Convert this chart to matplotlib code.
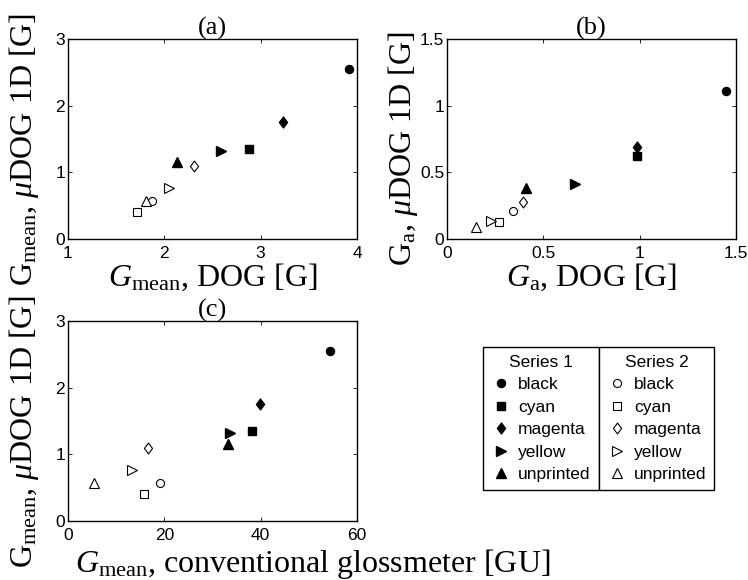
"""
Scatter comparison of gloss measures (three panels + split legend).
"""
import matplotlib
matplotlib.use('Agg')
import matplotlib.pyplot as plt
from matplotlib.lines import Line2D
from matplotlib.path import Path
from matplotlib.ticker import FuncFormatter

# Samples, same order in every array
samples = ['black', 'cyan', 'magenta', 'yellow', 'unprinted']

# matlab-like diamond (a bit narrower than tall)
diamond = Path([(0, 1), (0.75, 0), (0, -1), (-0.75, 0), (0, 1)],
               [Path.MOVETO, Path.LINETO, Path.LINETO, Path.LINETO, Path.CLOSEPOLY])
markers = ['o', 's', diamond, '>', '^']
msizes = [5.8, 5.3, 7.8, 7, 7]

# Gmean, DOG [G]
gmean_dog_1 = [3.92, 2.88, 3.23, 2.59, 2.13]
gmean_dog_2 = [1.87, 1.72, 2.31, 2.05, 1.81]

# Gmean, muDOG 1D [G]
gmean_mu_1 = [2.55, 1.35, 1.76, 1.32, 1.16]
gmean_mu_2 = [0.565, 0.41, 1.10, 0.76, 0.575]

# Ga, DOG [G]
ga_dog_1 = [1.446, 0.984, 0.984, 0.664, 0.408]
ga_dog_2 = [0.343, 0.272, 0.396, 0.227, 0.149]

# Ga, muDOG 1D [G]
ga_mu_1 = [1.11, 0.625, 0.69, 0.415, 0.385]
ga_mu_2 = [0.21, 0.13, 0.28, 0.135, 0.088]

# Gmean, conventional glossmeter [GU]
gmean_gu_1 = [54.3, 38.1, 39.9, 33.6, 33.2]
gmean_gu_2 = [19.2, 15.7, 16.7, 13.3, 5.5]

SERIF = 'Liberation Serif'
SANS = 'Liberation Sans'
plt.rcParams['font.family'] = SANS
plt.rcParams['mathtext.fontset'] = 'custom'
plt.rcParams['mathtext.rm'] = SERIF
plt.rcParams['mathtext.it'] = SERIF + ':italic'

W, H = 748, 580
fig = plt.figure(figsize=(W / 100, H / 100), dpi=100)


def px_axes(left, top, right, bottom):
    return fig.add_axes([left / W, 1 - bottom / H, (right - left) / W, (bottom - top) / H])


def draw_panel(ax, x1, y1, x2, y2, xlim, ylim, xticks, yticks, title, xlabel, ylabel):
    for i in range(len(samples)):
        ax.plot(x1[i], y1[i], linestyle='none', marker=markers[i], color='black',
                markersize=msizes[i])
        ax.plot(x2[i], y2[i], linestyle='none', marker=markers[i], markerfacecolor='white',
                markeredgecolor='black', markeredgewidth=0.8, markersize=msizes[i])
    ax.set_xlim(xlim)
    ax.set_ylim(ylim)
    ax.set_xticks(xticks)
    ax.set_yticks(yticks)
    fmt = FuncFormatter(lambda v, p: '%g' % v)
    ax.xaxis.set_major_formatter(fmt)
    ax.yaxis.set_major_formatter(fmt)
    ax.tick_params(direction='in', top=True, right=True, length=3, width=0.6,
                   labelsize=12.5)
    ax.tick_params(axis='x', pad=5)
    ax.tick_params(axis='y', pad=2)
    for sp in ax.spines.values():
        sp.set_linewidth(1.0)
    ax.set_title(title, fontfamily=SERIF, fontsize=19, pad=3)
    ax.set_xlabel(xlabel, fontfamily=SERIF, fontsize=23)
    ax.set_ylabel(ylabel, fontfamily=SERIF, fontsize=23)
    ax.xaxis.set_label_coords(0.5, -0.115)
    ax.yaxis.set_label_coords(-0.095, 0.45)


ax_a = px_axes(68, 39, 357, 239)
draw_panel(ax_a, gmean_dog_1, gmean_mu_1, gmean_dog_2, gmean_mu_2,
           (1, 4), (0, 3), [1, 2, 3, 4], [0, 1, 2, 3], '(a)',
           r'$G_{\mathrm{mean}}$, DOG [G]',
           r'G$_{\mathrm{mean}}$, $\mu$DOG 1D [G]')

ax_b = px_axes(447, 39, 736, 239)
draw_panel(ax_b, ga_dog_1, ga_mu_1, ga_dog_2, ga_mu_2,
           (0, 1.5), (0, 1.5), [0, 0.5, 1, 1.5], [0, 0.5, 1, 1.5], '(b)',
           r'$G_{\mathrm{a}}$, DOG [G]',
           r'G$_{\mathrm{a}}$, $\mu$DOG 1D [G]')

ax_c = px_axes(68, 321, 357, 521)
draw_panel(ax_c, gmean_gu_1, gmean_mu_1, gmean_gu_2, gmean_mu_2,
           (0, 60), (0, 3), [0, 20, 40, 60], [0, 1, 2, 3], '(c)',
           r'$G_{\mathrm{mean}}$, conventional glossmeter [GU]',
           r'G$_{\mathrm{mean}}$, $\mu$DOG 1D [G]')
# this label runs off to the right in the original
ax_c.xaxis.label.set_horizontalalignment('left')
ax_c.xaxis.set_label_coords(0.024, -0.13)

# Two side-by-side legend boxes
h1 = [Line2D([], [], linestyle='none', marker=m, color='black', markersize=s)
      for m, s in zip(markers, msizes)]
h2 = [Line2D([], [], linestyle='none', marker=m, markerfacecolor='white',
             markeredgecolor='black', markeredgewidth=0.8, markersize=s)
      for m, s in zip(markers, msizes)]

for handles, title, left, right in [(h1, 'Series 1', 483, 599), (h2, 'Series 2', 599, 714)]:
    leg = fig.legend(handles, samples, title=title, loc='upper left',
                     bbox_to_anchor=(left / W, 1 - 347 / H - 0.01, (right - left) / W, 0.01),
                     mode='expand', borderaxespad=0, fancybox=False, framealpha=1,
                     edgecolor='black', fontsize=12.5, title_fontsize=12.5,
                     handlelength=1.18, handletextpad=0.38, labelspacing=0.42,
                     borderpad=0.45)
    leg.get_frame().set_linewidth(1.0)

fig.savefig('out.png', dpi=100)
